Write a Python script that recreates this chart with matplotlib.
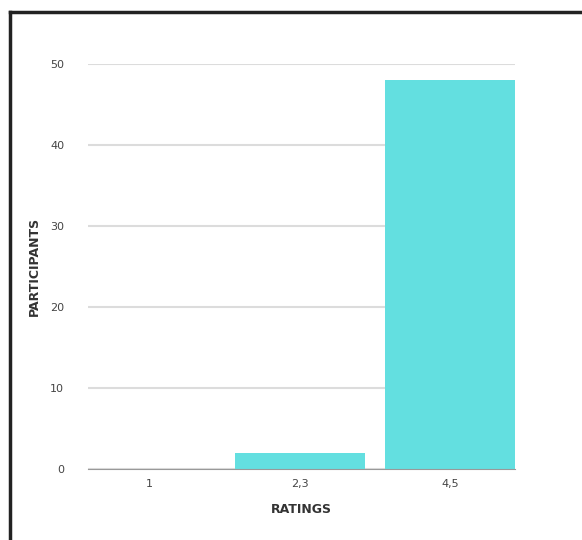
import matplotlib.pyplot as plt
from matplotlib.lines import Line2D

# Data
ratings = ["1", "2,3", "4,5"]
participants = [0, 2, 48]
y_ticks = [0, 10, 20, 30, 40, 50]

fig = plt.figure(figsize=(5.82, 5.40), dpi=100)
ax = fig.add_axes([0.151, 0.131, 0.734, 0.75])

x = range(len(ratings))
ax.bar(x, participants, width=0.87, color="#63dfe0", zorder=3)

ax.set_xlim(-0.41, 2.43)
ax.set_ylim(0, 50)
ax.set_xticks(list(x))
ax.set_xticklabels(ratings)
ax.set_yticks(y_ticks)
ax.tick_params(axis="both", length=0, labelsize=8, colors="#444444")
ax.tick_params(axis="y", pad=17)
ax.tick_params(axis="x", pad=7)

# Grid and spines
ax.grid(axis="y", color="#dcdcdc", linewidth=1.5, zorder=0)
for side in ["top", "right", "left"]:
    ax.spines[side].set_visible(False)
ax.spines["bottom"].set_color("#999999")
ax.spines["bottom"].set_zorder(4)

ax.set_xlabel("RATINGS", fontsize=9, fontweight="bold", color="#333333", labelpad=10)
ax.set_ylabel("PARTICIPANTS", fontsize=9, fontweight="bold", color="#333333", labelpad=7)

# Frame around the screenshot
fig.add_artist(Line2D([10 / 582, 10 / 582], [0, 1 - 12 / 540],
                      transform=fig.transFigure, color="#222222", linewidth=2.5))
fig.add_artist(Line2D([10 / 582, 1], [1 - 12 / 540, 1 - 12 / 540],
                      transform=fig.transFigure, color="#222222", linewidth=2.5))

fig.savefig("out.png", dpi=100)
